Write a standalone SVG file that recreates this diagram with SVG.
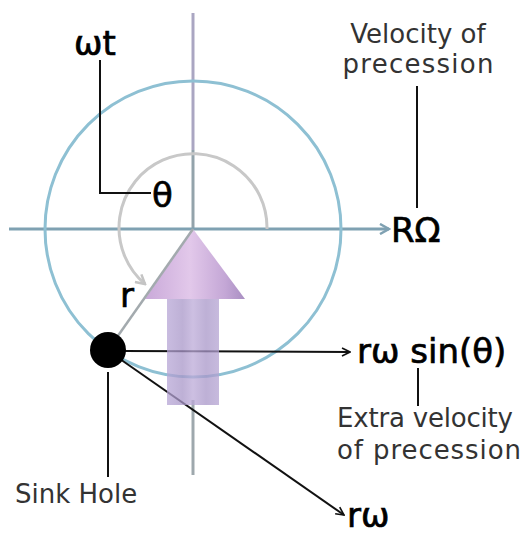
<svg xmlns="http://www.w3.org/2000/svg" width="524" height="534" viewBox="0 0 524 534">
<style>
.lbl{font-family:"DejaVu Sans","Liberation Sans",sans-serif;font-size:34px;fill:#000;stroke:#000;stroke-width:0.7}
.note{font-family:"DejaVu Sans","Liberation Sans",sans-serif;font-size:26px;fill:#333}
.lead{stroke:#111;stroke-width:2;fill:none}
.vec{stroke:#111;stroke-width:2;fill:none}
</style>
<defs>
<marker id="ah" viewBox="0 0 10 10" refX="9" refY="5" markerWidth="10" markerHeight="10" markerUnits="userSpaceOnUse" orient="auto">
<path d="M1,1 L9,5 L1,9" fill="none" stroke="#111" stroke-width="1.6"/>
</marker>
<marker id="ahb" viewBox="0 0 12 12" refX="10" refY="6" markerWidth="12" markerHeight="12" markerUnits="userSpaceOnUse" orient="auto">
<path d="M1,1 L10,6 L1,11" fill="none" stroke="#7fa1b2" stroke-width="2.5"/>
</marker>
<marker id="ahg" viewBox="0 0 12 12" refX="10" refY="6" markerWidth="12" markerHeight="12" markerUnits="userSpaceOnUse" orient="auto">
<path d="M1,1 L10,6 L1,11" fill="none" stroke="#c4c4c4" stroke-width="2.5"/>
</marker>
<linearGradient id="cone" x1="0" y1="0" x2="1" y2="0">
<stop offset="0" stop-color="#c9a9d9"/>
<stop offset="0.45" stop-color="#e2c8ea"/>
<stop offset="0.8" stop-color="#c4a7d6"/>
<stop offset="1" stop-color="#a98fc2"/>
</linearGradient>
<linearGradient id="shaft" x1="0" y1="0" x2="1" y2="0">
<stop offset="0" stop-color="#b7a6d6"/>
<stop offset="0.3" stop-color="#a896c8"/>
<stop offset="0.5" stop-color="#bcaad8"/>
<stop offset="0.75" stop-color="#a896c8"/>
<stop offset="1" stop-color="#b4a3d2"/>
</linearGradient>
</defs>
<rect width="524" height="534" fill="#fff"/>

<g id="axes">
<line x1="193" y1="13" x2="193" y2="150" stroke="#aaa6c2" stroke-width="3"/>
<line x1="193" y1="150" x2="193" y2="229" stroke="#93a3ab" stroke-width="3"/>
<line x1="193" y1="400" x2="193" y2="475" stroke="#9ea8ad" stroke-width="3"/>
<line x1="9" y1="229" x2="389" y2="229" stroke="#7fa1b2" stroke-width="3" marker-end="url(#ahb)"/>
</g>

<g id="orbit">
<circle cx="193" cy="229" r="148" fill="none" stroke="#8ec0d3" stroke-width="3"/>
</g>

<g id="angle-arc">
<path d="M267,229 A74,74 0 1 0 145,284" fill="none" stroke="#c8c8c8" stroke-width="3" marker-end="url(#ahg)"/>
</g>

<g id="connectors">
<polyline class="lead" points="100,60 100,193 151,193"/>
<line class="lead" x1="417" y1="86" x2="417" y2="208"/>
<line class="lead" x1="418" y1="368" x2="418" y2="406"/>
<line class="lead" x1="108" y1="372" x2="108" y2="477"/>
<line class="vec" x1="124" y1="351" x2="350" y2="352" marker-end="url(#ah)"/>
<line class="vec" x1="120" y1="359" x2="344" y2="515" marker-end="url(#ah)"/>
</g>

<g id="top-arrow">
<rect x="167" y="298" width="52" height="107" fill="url(#shaft)" opacity="0.75"/>
<polygon points="193,229 145,299 245,299" fill="url(#cone)"/>
</g>

<g id="radius">
<line x1="193" y1="229" x2="108" y2="350" stroke="#a3aaae" stroke-width="2.5"/>
</g>

<g id="sink-hole">
<circle cx="108" cy="350" r="18" fill="#000"/>
</g>

<g id="labels">
<text class="lbl" x="74" y="55">ωt</text>
<text class="lbl" x="152" y="207">θ</text>
<text class="lbl" x="391" y="242">RΩ</text>
<text class="lbl" x="120" y="307">r</text>
<text class="lbl" x="357" y="363">rω sin(θ)</text>
<text class="lbl" x="347" y="527">rω</text>
<text class="note" x="418" y="43" text-anchor="middle">Velocity of</text>
<text class="note" x="418" y="73" text-anchor="middle" textLength="151">precession</text>
<text class="note" x="337" y="427" textLength="176">Extra velocity</text>
<text class="note" x="337" y="459" textLength="184">of precession</text>
<text class="note" x="15" y="503">Sink Hole</text>
</g>
</svg>
